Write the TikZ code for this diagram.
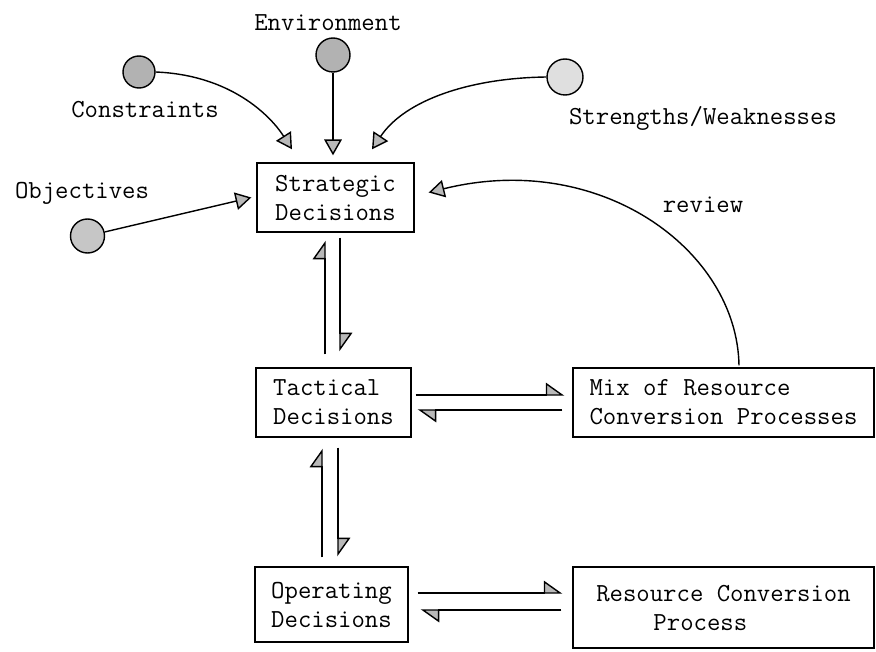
\documentclass[tikz,border=0pt]{standalone}
\usepackage{fontspec}
\usepackage{tikz}
\usetikzlibrary{arrows.meta}
\usetikzlibrary{calc}

\begin{document}
\begin{tikzpicture}[x=0.02cm, y=-0.02cm, line width=0.8pt,
  font=\fontsize{14.8pt}{16.5pt}\selectfont\ttfamily,
  box/.style={draw, align=left, inner sep=0pt},
  dot/.style={circle, draw, fill=gray!60, inner sep=0pt, minimum size=0.68cm},
  head/.style={-{Triangle[length=9pt,width=10pt,fill=gray!55]}},
  harp/.style={-{Triangle[harpoon,length=10pt,width=14pt,fill=gray!55]}}]
\useasboundingbox (0,0) rectangle (876,652);
% decisions
\node[box, minimum width=3.14cm, minimum height=1.38cm] (strat) at (335.5,197.5) {Strategic\\Decisions};
\node[box, minimum width=3.1cm, minimum height=1.38cm] (tact) at (333.5,402.5) {Tactical\\Decisions};
\node[box, minimum width=3.06cm, minimum height=1.5cm] (oper) at (331.5,604.5) {Operating\\Decisions};
\node[box, minimum width=6.02cm, minimum height=1.38cm] (mix) at (723.5,402.5) {Mix of Resource\\Conversion Processes};
\node[box, minimum width=6.02cm, minimum height=1.62cm] (res) at (723.5,607.5) {Resource Conversion\\\hspace*{2.2em}Process};
% inputs
\node[dot] (env) at (333,55) {};
\node (envlab) at (328,23) {Environment};
\node[dot, minimum size=0.64cm] (cons) at (139,72) {};
\node (conslab) at (145,110) {Constraints};
\node[dot, fill=gray!45] (obj) at (87.5,236) {};
\node (objlab) at (82,193) {Objectives};
\node[dot, fill=gray!25, minimum size=0.72cm] (sw) at (565,77) {};
\node (swlab) at (703,118) {Strengths/Weaknesses};
\node (revlab) at (703,205) {review};
\draw[head] (env) -- ($(strat.north)+(-2.5,-7)$);
\draw[head] (cons.east) .. controls (230,75) and (270,115) .. ($(strat.north)+(-43.5,-13)$);
\draw[head] (sw.west) .. controls (470,78) and (405,100) .. ($(strat.north)+(36.5,-13)$);
\draw[head] (obj) -- ($(strat.west)+(-5,0)$);
\draw[head] ($(mix.north)+(15.5,-2)$) .. controls (737,250) and (600,150) .. ($(strat.east)+(14,-5)$);
% up and down
\draw[harp] ($(tact.north)+(-8.5,-13)$) -- ($(strat.south)+(-10.5,8)$);
\draw[harp] ($(strat.south)+(4.5,5)$) -- ($(tact.north)+(6.5,-16)$);
\draw[harp] ($(oper.north)+(-9.5,-9)$) -- ($(tact.south)+(-11.5,11)$);
\draw[harp] ($(tact.south)+(4.5,10)$) -- ($(oper.north)+(6.5,-10)$);
% across
\draw[harp] ($(tact.east)+(4,-7.5)$) -- ($(mix.west)+(-8,-7.5)$);
\draw[harp] ($(mix.west)+(-10,7.5)$) -- ($(tact.east)+(6,7.5)$);
\draw[harp] ($(oper.east)+(9,-11.5)$) -- ($(res.west)+(-10,-14.5)$);
\draw[harp] ($(res.west)+(-11,2.5)$) -- ($(oper.east)+(12,5.5)$);
\end{tikzpicture}
\end{document}
